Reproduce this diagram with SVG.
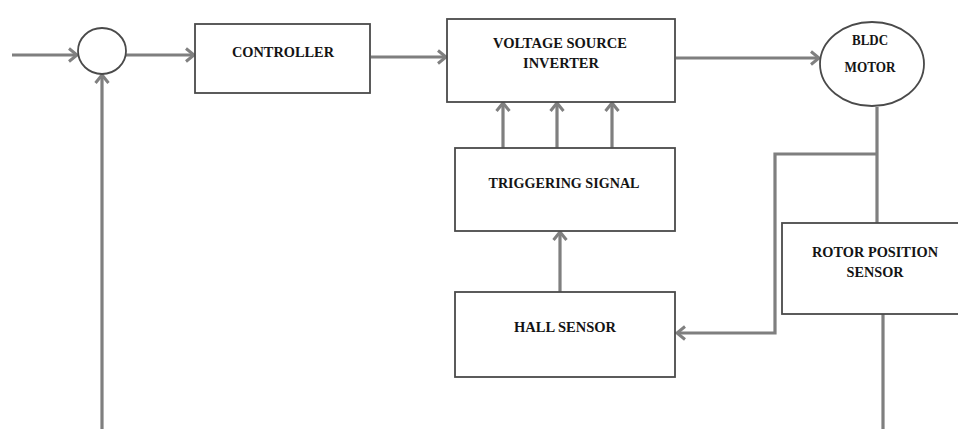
<svg xmlns="http://www.w3.org/2000/svg" width="958" height="429" viewBox="0 0 958 429">
<defs>
<marker id="arr" markerUnits="userSpaceOnUse" markerWidth="16" markerHeight="16" refX="11" refY="8" orient="auto">
<path d="M3,1.5 L11,8 L3,14.5" fill="none" stroke="#808080" stroke-width="3" stroke-linejoin="miter"/>
</marker>
<style>
.box{fill:#fff;stroke:#4a4a4a;stroke-width:1.8}
.ln{fill:none;stroke:#7f7f7f;stroke-width:3.2}
text{font-family:'Liberation Serif','Times New Roman',serif;font-weight:700;font-size:14.5px;fill:#141414;text-anchor:middle}
</style>
</defs>
<rect width="958" height="429" fill="#fff"/>
<g id="connectors">
<line class="ln" x1="12" y1="55" x2="77" y2="55" marker-end="url(#arr)"/>
<line class="ln" x1="126" y1="55" x2="194" y2="55" marker-end="url(#arr)"/>
<line class="ln" x1="371" y1="57" x2="446" y2="57" marker-end="url(#arr)"/>
<line class="ln" x1="676" y1="58" x2="819" y2="58" marker-end="url(#arr)"/>
<line class="ln" x1="503" y1="148" x2="503" y2="103" marker-end="url(#arr)"/>
<line class="ln" x1="557" y1="148" x2="557" y2="103" marker-end="url(#arr)"/>
<line class="ln" x1="612" y1="148" x2="612" y2="103" marker-end="url(#arr)"/>
<line class="ln" x1="560" y1="292" x2="560" y2="232" marker-end="url(#arr)"/>
<line class="ln" x1="877" y1="107" x2="877" y2="223"/>
<polyline class="ln" points="877,154 775,154 775,333 677,333" marker-end="url(#arr)"/>
<line class="ln" x1="883" y1="314" x2="883" y2="429"/>
<line class="ln" x1="102" y1="429" x2="102" y2="75" marker-end="url(#arr)"/>
</g>
<g id="sum">
<ellipse class="box" cx="102" cy="51" rx="24" ry="23"/>
</g>
<g id="controller">
<rect class="box" x="195" y="24" width="175" height="69"/>
<text x="283" y="57" textLength="102" lengthAdjust="spacingAndGlyphs">CONTROLLER</text>
</g>
<g id="vsi">
<rect class="box" x="447" y="19" width="228" height="83"/>
<text x="560" y="48" textLength="134" lengthAdjust="spacingAndGlyphs">VOLTAGE SOURCE</text>
<text x="561" y="68" textLength="76" lengthAdjust="spacingAndGlyphs">INVERTER</text>
</g>
<g id="motor">
<ellipse class="box" cx="872" cy="64" rx="52" ry="42"/>
<text x="870" y="45" textLength="36" lengthAdjust="spacingAndGlyphs">BLDC</text>
<text x="870" y="72" textLength="51" lengthAdjust="spacingAndGlyphs">MOTOR</text>
</g>
<g id="triggering">
<rect class="box" x="455" y="148" width="220" height="83"/>
<text x="564" y="188" textLength="151" lengthAdjust="spacingAndGlyphs">TRIGGERING SIGNAL</text>
</g>
<g id="hall">
<rect class="box" x="455" y="292" width="220" height="85"/>
<text x="565" y="332" textLength="102" lengthAdjust="spacingAndGlyphs">HALL SENSOR</text>
</g>
<g id="rotor">
<rect class="box" x="782" y="223" width="190" height="91"/>
<text x="875" y="257" textLength="126" lengthAdjust="spacingAndGlyphs">ROTOR POSITION</text>
<text x="875" y="277" textLength="57" lengthAdjust="spacingAndGlyphs">SENSOR</text>
</g>
</svg>
